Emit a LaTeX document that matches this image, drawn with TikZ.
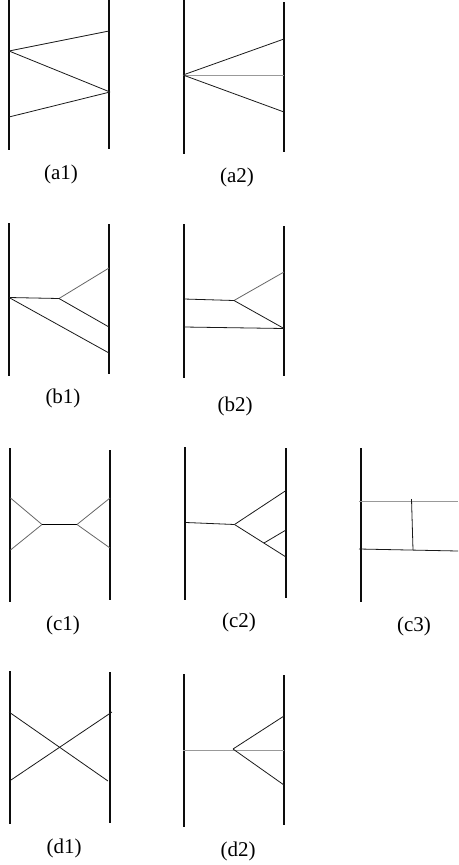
\documentclass[tikz,border=0pt]{standalone}
\usepackage{fontspec}
\setmainfont{Liberation Serif}
\begin{document}
\begin{tikzpicture}[x=1pt,y=-1pt,
rail/.style={line width=2pt,black!95},
wire/.style={line width=0.8pt,black!90},
pale/.style={line width=1pt,black!40},
tag/.style={font=\fontsize{21}{25}\selectfont,inner sep=0pt}]
\useasboundingbox (0,0) rectangle (458,865);
% a1
\coordinate (a1ltop) at (9,0);
\coordinate (a1lbot) at (9,150);
\coordinate (a1rtop) at (109,0);
\coordinate (a1rbot) at (109,149);
\coordinate (a1l) at (9,51);
\coordinate (a1m) at (9,117);
\coordinate (a1r) at (109,31);
\coordinate (a1s) at (110,92);
\draw[rail] (a1ltop) -- (a1lbot);
\draw[rail] (a1rtop) -- (a1rbot);
\draw[wire] (a1l) -- (a1r);
\draw[wire] (a1l) -- (a1s);
\draw[wire] (a1m) -- (a1s);
\node[tag] (a1tag) at (61,174) {(a1)};
% a2
\coordinate (a2ltop) at (184,0);
\coordinate (a2lbot) at (184,154);
\coordinate (a2rtop) at (284,2);
\coordinate (a2rbot) at (284,152);
\coordinate (a2l) at (183,75);
\coordinate (a2r) at (284,39);
\coordinate (a2s) at (284,75);
\coordinate (a2t) at (284,112);
\draw[rail] (a2ltop) -- (a2lbot);
\draw[rail] (a2rtop) -- (a2rbot);
\draw[wire] (a2l) -- (a2r);
\draw[pale] (a2l) -- (a2s);
\draw[wire] (a2l) -- (a2t);
\node[tag] (a2tag) at (237,177) {(a2)};
% b1
\coordinate (b1ltop) at (9,223);
\coordinate (b1lbot) at (9,376);
\coordinate (b1rtop) at (109,224);
\coordinate (b1rbot) at (109,374);
\coordinate (b1l) at (9,297.5);
\coordinate (b1j) at (59,298.5);
\coordinate (b1r) at (109,268);
\coordinate (b1s) at (109,327);
\coordinate (b1t) at (109,353);
\draw[rail] (b1ltop) -- (b1lbot);
\draw[rail] (b1rtop) -- (b1rbot);
\draw[wire] (b1l) -- (b1j);
\draw[wire,black!60] (b1j) -- (b1r);
\draw[wire] (b1j) -- (b1s);
\draw[wire] (b1l) -- (b1t);
\node[tag] (b1tag) at (63,398) {(b1)};
% b2
\coordinate (b2ltop) at (184,224);
\coordinate (b2lbot) at (184,378);
\coordinate (b2rtop) at (284,226);
\coordinate (b2rbot) at (284,376);
\coordinate (b2l) at (184,299);
\coordinate (b2m) at (184,327);
\coordinate (b2j) at (234,300.5);
\coordinate (b2r) at (284,272);
\coordinate (b2s) at (284,328.5);
\draw[rail] (b2ltop) -- (b2lbot);
\draw[rail] (b2rtop) -- (b2rbot);
\draw[wire] (b2l) -- (b2j);
\draw[wire,black!60] (b2j) -- (b2r);
\draw[wire] (b2j) -- (b2s);
\draw[wire] (b2m) -- (b2s);
\node[tag] (b2tag) at (235,406) {(b2)};
% c1
\coordinate (c1ltop) at (10,448);
\coordinate (c1lbot) at (10,602);
\coordinate (c1rtop) at (110,450);
\coordinate (c1rbot) at (110,600);
\coordinate (c1l) at (10.5,498);
\coordinate (c1m) at (10.5,550);
\coordinate (c1j) at (42,524.5);
\coordinate (c1k) at (77,524.5);
\coordinate (c1r) at (110,498);
\coordinate (c1s) at (110,548);
\draw[rail] (c1ltop) -- (c1lbot);
\draw[rail] (c1rtop) -- (c1rbot);
\draw[wire,black!60] (c1l) -- (c1j);
\draw[wire,black!60] (c1m) -- (c1j);
\draw[wire,line width=1pt,black] (c1j) -- (c1k);
\draw[wire,black!60] (c1k) -- (c1r);
\draw[wire,black!60] (c1k) -- (c1s);
\node[tag] (c1tag) at (63,625) {(c1)};
% c2
\coordinate (c2ltop) at (185,447);
\coordinate (c2lbot) at (185,600);
\coordinate (c2rtop) at (286,448);
\coordinate (c2rbot) at (286,598);
\coordinate (c2l) at (186,522.5);
\coordinate (c2j) at (234.5,524.5);
\coordinate (c2r) at (286,490.5);
\coordinate (c2s) at (286,530);
\coordinate (c2t) at (286,557);
\coordinate (c2k) at (264,543);
\draw[rail] (c2ltop) -- (c2lbot);
\draw[rail] (c2rtop) -- (c2rbot);
\draw[wire] (c2l) -- (c2j);
\draw[wire] (c2j) -- (c2r);
\draw[wire] (c2j) -- (c2t);
\draw[wire] (c2k) -- (c2s);
\node[tag] (c2tag) at (239,622) {(c2)};
% c3
\coordinate (c3ltop) at (361,448);
\coordinate (c3lbot) at (361,602);
\coordinate (c3a) at (359,501);
\coordinate (c3b) at (458,501);
\coordinate (c3c) at (359,549);
\coordinate (c3d) at (458,551);
\coordinate (c3u) at (411.5,499);
\coordinate (c3v) at (413,550);
\draw[rail] (c3ltop) -- (c3lbot);
\draw[pale] (c3a) -- (c3b);
\draw[wire] (c3c) -- (c3d);
\draw[wire] (c3u) -- (c3v);
\node[tag] (c3tag) at (414,626) {(c3)};
% d1
\coordinate (d1ltop) at (10,671);
\coordinate (d1lbot) at (10,824);
\coordinate (d1rtop) at (110,672);
\coordinate (d1rbot) at (110,823);
\coordinate (d1l) at (9,712);
\coordinate (d1m) at (11,780);
\coordinate (d1r) at (112,712);
\coordinate (d1s) at (108,781);
\draw[rail] (d1ltop) -- (d1lbot);
\draw[rail] (d1rtop) -- (d1rbot);
\draw[wire] (d1l) -- (d1s);
\draw[wire] (d1m) -- (d1r);
\node[tag] (d1tag) at (64,848) {(d1)};
% d2
\coordinate (d2ltop) at (184,674);
\coordinate (d2lbot) at (184,827);
\coordinate (d2rtop) at (284,675);
\coordinate (d2rbot) at (284,825);
\coordinate (d2l) at (183,750);
\coordinate (d2j) at (233,749);
\coordinate (d2r) at (284,716);
\coordinate (d2s) at (284,750);
\coordinate (d2t) at (284,785);
\draw[rail] (d2ltop) -- (d2lbot);
\draw[rail] (d2rtop) -- (d2rbot);
\draw[pale] (d2l) -- (d2s);
\draw[wire] (d2j) -- (d2r);
\draw[wire] (d2j) -- (d2t);
\node[tag] (d2tag) at (238,851) {(d2)};
\end{tikzpicture}
\end{document}
